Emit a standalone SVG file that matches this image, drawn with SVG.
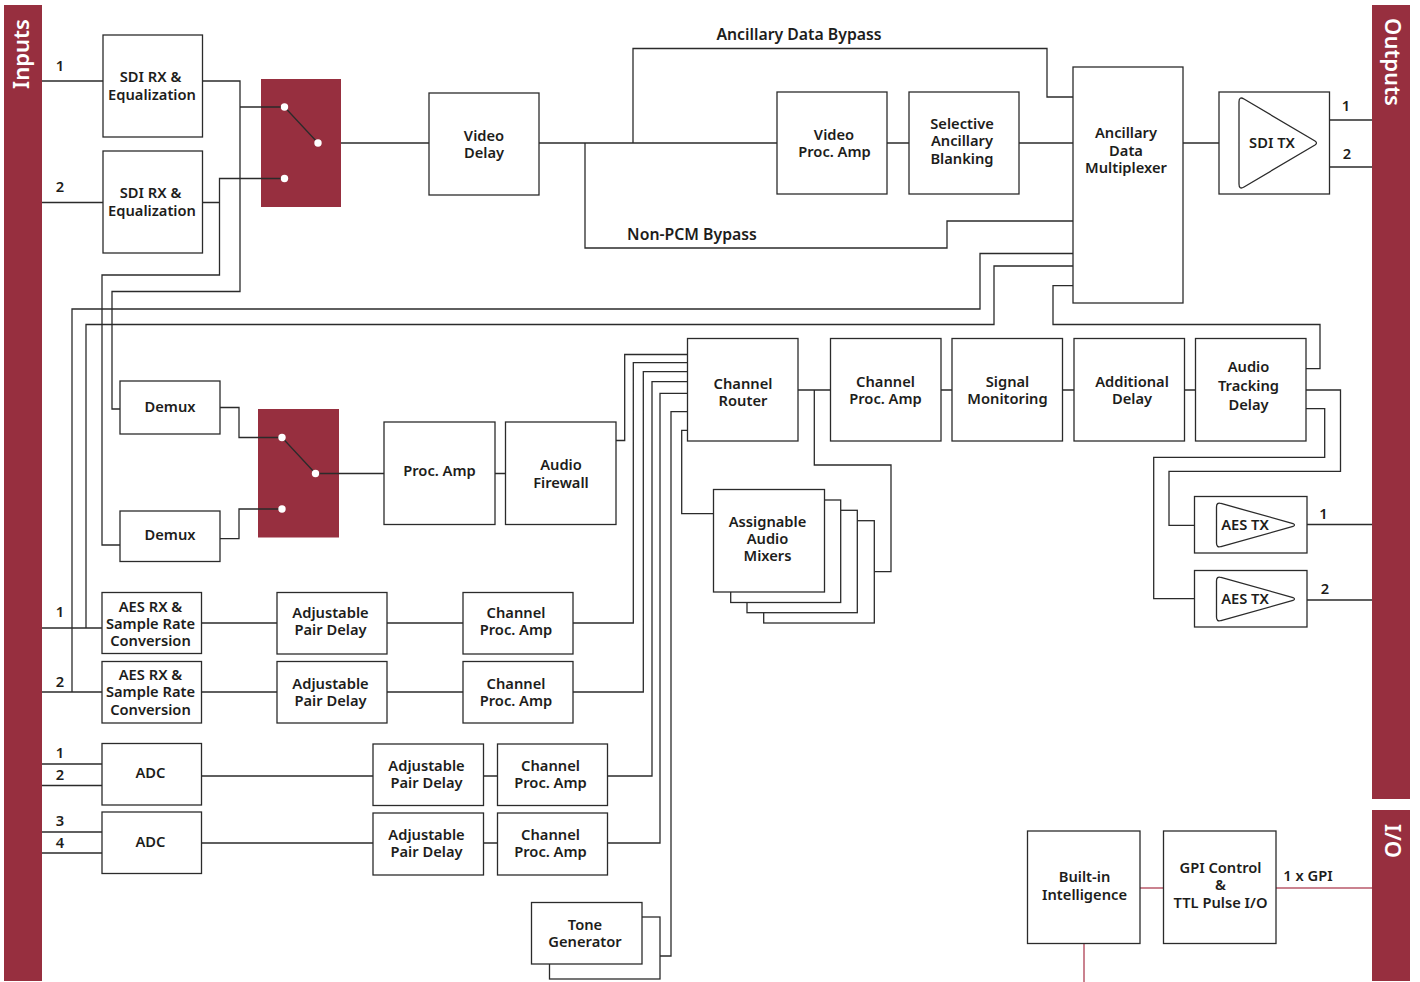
<svg xmlns="http://www.w3.org/2000/svg" width="1420" height="982" viewBox="0 0 1420 982">
<style>
.b{fill:#fff;stroke:#2b2b2b;stroke-width:1.3}
.c{fill:none;stroke:#2b2b2b;stroke-width:1.3}
.p{fill:none;stroke:#b9596b;stroke-width:1.5}
.r{fill:#972f3f}
.d{fill:#fff}
text{font-family:"Noto Sans","Liberation Sans",sans-serif;font-size:14.700px;font-weight:600;fill:#1d1d1b;text-anchor:middle}
text:not(.s){transform:translateY(-.6px)}
.s{font-size:22px;font-weight:600;fill:#fff}
.l{font-size:15.800px}
</style>
<g id="sidebars">
<rect class="r" x="4" y="5" width="38" height="976"/>
<rect class="r" x="1372" y="5" width="38" height="794"/>
<rect class="r" x="1372" y="810" width="38" height="171"/>
<text class="s" transform="translate(29,54) rotate(-90)">Inputs</text>
<text class="s" transform="translate(1385,62) rotate(90)">Outputs</text>
<text class="s" transform="translate(1385,841) rotate(90)">I/O</text>
</g>
<g id="connectors">
<path class="c" d="M42 81H103M202.500 81H240V291.500H112V409H120M240 107H284.500"/>
<path class="c" d="M42 202.500H103M202.500 202.500H219.500M284.500 178.500H219.500V275H102V545H120"/>
<path class="c" d="M341 143H429M539 143H777M633 143V48.500H1047V97H1073M585 143V248H947V221H1073M887 143H909M1019 143H1073M1183 143H1219"/>
<path class="c" d="M1329.500 120H1372M1329.500 167H1372"/>
<path class="c" d="M1073 253.500H980V309H72V692M1073 266H994V324.500H86V628"/>
<path class="c" d="M1073 285.700H1053V324.500H1320V368.700H1306"/>
<path class="c" d="M220 407.500H239V437.500H282M220 538.700H239V509H282M315.500 473.500H384M495 473.500H505.500"/>
<path class="c" d="M616 440.500H624.700V354.500H687.500M573 623H633.300V362.700H687.500M573 692H643.300V371.700H687.500M607.500 776H652V381.700H687.500M607.500 843H660V393.300H687.500M660 956H671V411.700H687.500"/>
<path class="c" d="M687.500 430.300H681.700V513.700H713.500"/>
<path class="c" d="M798 390H830.500M814.300 390V465H891V571.700H874M941 390H952M1062.500 390H1074M1184.500 390H1195.500"/>
<path class="c" d="M1306 390H1340.500V471.300H1169V525.300H1194.500M1306 408.700H1324.700V457.300H1153.700V598.700H1194.500M1307 524.500H1372M1307 600H1372"/>
<path class="c" d="M42 628H102M201.500 623H277M387 623H463M42 692H102M201.500 692H277M387 692H463"/>
<path class="c" d="M42 764H102M42 785.500H102M42 832H102M42 853H102M201.500 776H373M201.500 843H373M483.500 776H497.500M483.500 843H497.500"/>
<path class="p" d="M1140 888H1163.500M1276 888H1372M1084 943.500V982"/>
</g>
<g id="sdi-rx-1"><rect class="b" x="103" y="35" width="99.500" height="102"/><text x="150.500" y="83">SDI RX &amp;</text><text x="152" y="101">Equalization</text></g>
<g id="sdi-rx-2"><rect class="b" x="103" y="151" width="99.500" height="102"/><text x="150.500" y="199">SDI RX &amp;</text><text x="152" y="217">Equalization</text></g>
<g id="switch-1"><rect class="r" x="261" y="79" width="80" height="128"/><path class="c" d="M284.500 107H261M284.500 107L318 143M284.500 178.500H261"/><circle class="d" cx="284.500" cy="107" r="3.700"/><circle class="d" cx="318" cy="143" r="3.700"/><circle class="d" cx="284.500" cy="178.500" r="3.700"/></g>
<g id="video-delay"><rect class="b" x="429" y="93" width="110" height="102"/><text x="484" y="142">Video</text><text x="484" y="159">Delay</text></g>
<g id="video-proc-amp"><rect class="b" x="777" y="92" width="110" height="102"/><text x="834" y="141">Video</text><text x="834.500" y="158">Proc. Amp</text></g>
<g id="selective-blanking"><rect class="b" x="909" y="92" width="110" height="102"/><text x="962" y="130">Selective</text><text x="962" y="147">Ancillary</text><text x="962" y="165">Blanking</text></g>
<g id="ancillary-mux"><rect class="b" x="1073" y="67" width="110" height="236"/><text x="1126" y="139">Ancillary</text><text x="1126" y="157">Data</text><text x="1126" y="174">Multiplexer</text></g>
<g id="sdi-tx"><rect class="b" x="1219" y="92" width="110.500" height="102"/><path class="c" d="M1239 102Q1239 96 1244 99L1315 141Q1318 143 1315 145L1244 187Q1239 190 1239 184Z"/><text x="1272" y="149">SDI TX</text></g>
<g id="demux-1"><rect class="b" x="120" y="381" width="100" height="53"/><text x="170" y="413">Demux</text></g>
<g id="demux-2"><rect class="b" x="120" y="511" width="100" height="50.500"/><text x="170" y="541">Demux</text></g>
<g id="switch-2"><rect class="r" x="258" y="409" width="81" height="128.500"/><path class="c" d="M282 437.500H258M282 437.500L315.500 473.500H339M282 509H258"/><circle class="d" cx="282" cy="437.500" r="3.700"/><circle class="d" cx="315.500" cy="473.500" r="3.700"/><circle class="d" cx="282" cy="509" r="3.700"/></g>
<g id="proc-amp"><rect class="b" x="384" y="422" width="111" height="102.500"/><text x="439.500" y="477">Proc. Amp</text></g>
<g id="audio-firewall"><rect class="b" x="505.500" y="422" width="110.500" height="102.500"/><text x="561" y="471">Audio</text><text x="561" y="489">Firewall</text></g>
<g id="channel-router"><rect class="b" x="687.500" y="338.500" width="110.500" height="102.500"/><text x="743" y="390">Channel</text><text x="743" y="407">Router</text></g>
<g id="channel-proc-amp-main"><rect class="b" x="830.500" y="338.500" width="110.500" height="102.500"/><text x="885.500" y="388">Channel</text><text x="885.500" y="405">Proc. Amp</text></g>
<g id="signal-monitoring"><rect class="b" x="952" y="338.500" width="110.500" height="102.500"/><text x="1007.500" y="388">Signal</text><text x="1007.500" y="405">Monitoring</text></g>
<g id="additional-delay"><rect class="b" x="1074" y="338.500" width="110.500" height="102.500"/><text x="1132" y="388">Additional</text><text x="1132" y="405">Delay</text></g>
<g id="audio-tracking-delay"><rect class="b" x="1195.500" y="338.500" width="110.500" height="102.500"/><text x="1248.500" y="373">Audio</text><text x="1248.500" y="392">Tracking</text><text x="1248.500" y="411">Delay</text></g>
<g id="aes-tx-1"><rect class="b" x="1194.500" y="496.500" width="112.500" height="56.500"/><path class="c" d="M1216.500 507Q1216.500 502 1221 503.500L1293 523.500Q1296 525 1293 526.500L1221 546.500Q1216.500 548 1216.500 543Z"/><text x="1245" y="531">AES TX</text></g>
<g id="aes-tx-2"><rect class="b" x="1194.500" y="570.500" width="112.500" height="56.500"/><path class="c" d="M1216.500 581Q1216.500 576 1221 577.500L1293 597.500Q1296 599 1293 600.500L1221 620.500Q1216.500 622 1216.500 617Z"/><text x="1245" y="605">AES TX</text></g>
<g id="assignable-mixers"><rect class="b" x="763.700" y="520.700" width="110.600" height="102.300"/><rect class="b" x="747" y="510.300" width="110.300" height="102.400"/><rect class="b" x="730.700" y="500" width="110" height="102.500"/><rect class="b" x="713.500" y="489.500" width="111" height="102.500"/><text x="767.500" y="528">Assignable</text><text x="767.500" y="545">Audio</text><text x="767.500" y="562">Mixers</text></g>
<g id="aes-rx-1"><rect class="b" x="102" y="592.500" width="99.500" height="61"/><text x="150.500" y="612.500">AES RX &amp;</text><text x="150.500" y="630">Sample Rate</text><text x="150.500" y="647">Conversion</text></g>
<g id="aes-rx-2"><rect class="b" x="102" y="661.500" width="99.500" height="61.500"/><text x="150.500" y="680.500">AES RX &amp;</text><text x="150.500" y="698">Sample Rate</text><text x="150.500" y="715.500">Conversion</text></g>
<g id="pair-delay-1"><rect class="b" x="277" y="592.500" width="110" height="61.500"/><text x="330.500" y="619">Adjustable</text><text x="330.500" y="635.500">Pair Delay</text></g>
<g id="pair-delay-2"><rect class="b" x="277" y="661.500" width="110" height="61.500"/><text x="330.500" y="690">Adjustable</text><text x="330.500" y="706.500">Pair Delay</text></g>
<g id="channel-proc-1"><rect class="b" x="463" y="592.500" width="110" height="61.500"/><text x="516" y="619">Channel</text><text x="516" y="635.500">Proc. Amp</text></g>
<g id="channel-proc-2"><rect class="b" x="463" y="661.500" width="110" height="61.500"/><text x="516" y="690">Channel</text><text x="516" y="706.500">Proc. Amp</text></g>
<g id="adc-1"><rect class="b" x="102" y="743.500" width="99.500" height="61.500"/><text x="150.500" y="779">ADC</text></g>
<g id="adc-2"><rect class="b" x="102" y="812" width="99.500" height="61.500"/><text x="150.500" y="848">ADC</text></g>
<g id="pair-delay-3"><rect class="b" x="373" y="744" width="110.500" height="61.500"/><text x="426.500" y="772">Adjustable</text><text x="426.500" y="788.500">Pair Delay</text></g>
<g id="pair-delay-4"><rect class="b" x="373" y="813" width="110.500" height="62"/><text x="426.500" y="841">Adjustable</text><text x="426.500" y="858">Pair Delay</text></g>
<g id="channel-proc-3"><rect class="b" x="497.500" y="744" width="110" height="61.500"/><text x="550.500" y="772">Channel</text><text x="550.500" y="788.500">Proc. Amp</text></g>
<g id="channel-proc-4"><rect class="b" x="497.500" y="813" width="110" height="62"/><text x="550.500" y="841">Channel</text><text x="550.500" y="858">Proc. Amp</text></g>
<g id="tone-generator"><rect class="b" x="549.500" y="917" width="110.500" height="62"/><rect class="b" x="531.500" y="902.500" width="110.500" height="61.500"/><text x="585" y="931">Tone</text><text x="585" y="947.500">Generator</text></g>
<g id="built-in-intelligence"><rect class="b" x="1027.500" y="831" width="112.500" height="112.500"/><text x="1084.500" y="883">Built-in</text><text x="1084.500" y="900.500">Intelligence</text></g>
<g id="gpi-control"><rect class="b" x="1163.500" y="831" width="112.500" height="112.500"/><text x="1220.500" y="874">GPI Control</text><text x="1220.500" y="891">&amp;</text><text x="1220.500" y="909">TTL Pulse I/O</text></g>
<g id="labels">
<text class="l" x="799" y="41">Ancillary Data Bypass</text><text class="l" x="692" y="241">Non-PCM Bypass</text>
<text x="60" y="72">1</text><text x="60" y="193">2</text><text x="60" y="618">1</text><text x="60" y="687.500">2</text><text x="60" y="759">1</text><text x="60" y="780.500">2</text><text x="60" y="827">3</text><text x="60" y="849">4</text>
<text x="1346" y="112">1</text><text x="1347" y="160">2</text><text x="1323.500" y="520">1</text><text x="1325" y="595">2</text><text x="1308" y="882">1 x GPI</text>
</g>
</svg>
